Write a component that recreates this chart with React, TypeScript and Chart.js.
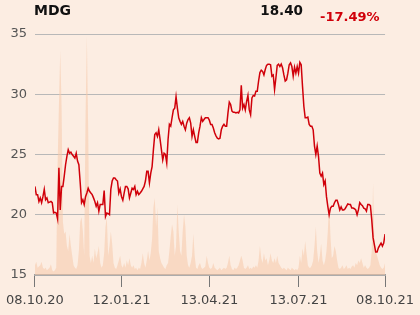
import { useEffect, useRef } from "react";
import { Chart, registerables } from "chart.js";
Chart.register(...registerables);

const titleText = "MDG";
const lastPriceText = "18.40";
const changeText = "-17.49%";

const xTickLabels = ["08.10.20", "12.01.21", "13.04.21", "13.07.21", "08.10.21"];
const xTickIndex = [0, 65, 131, 198, 263];
const yTickValues = [15, 20, 25, 30, 35];

const prices = [
  22.35, 21.67, 21.67, 21.1, 21.4, 21.0, 21.5, 22.1, 21.25, 21.4,
  21.0, 21.05, 21.1, 21.0, 20.15, 20.2, 20.15, 19.65, 23.9, 20.4, 22.35, 22.35,
  23.2, 24.15, 24.85, 25.4, 25.1, 25.2, 25.0, 24.85, 24.7, 25.1,
  24.45, 24.15, 22.65, 21.0, 21.25, 20.85, 21.5, 21.8, 22.2, 21.95,
  21.8,
  21.67, 21.4, 21.1, 20.7, 21.0, 20.3, 20.85, 20.85, 20.85, 22.0,
  19.85, 20.15, 20.1, 20.0, 22.1, 22.8, 23.05, 23.05, 22.9, 22.8,
  21.8, 22.15, 21.5, 21.2, 21.8, 22.35, 22.35, 22.15, 21.4, 21.8,
  22.2, 22.1, 22.35, 21.67, 21.95, 21.67, 21.8, 21.95, 22.15, 22.35,
  22.8, 23.6, 23.6, 22.65, 23.45, 24.0, 25.4, 26.65, 26.8, 26.5,
  27.05, 26.25, 25.4, 24.55, 25.1, 25.0, 24.3, 26.25, 27.5, 27.35,
  28.05, 28.7, 28.85, 29.8, 28.85, 28.05, 27.75, 27.5, 27.75, 27.35,
  27.05, 27.6, 27.9, 28.05, 27.6, 26.5, 27.05, 26.5, 26.0, 26.0,
  26.8, 27.35, 28.05, 27.75, 27.9, 28.05, 28.05, 28.05, 27.85, 27.5,
  27.5, 27.2, 26.8, 26.55, 26.35, 26.3, 26.35, 27.05, 27.35, 27.5,
  27.35, 27.35, 28.45, 29.35, 29.15, 28.6, 28.5, 28.5, 28.45, 28.5,
  28.45, 28.7, 30.75, 28.85, 29.15, 28.7, 29.4, 29.9, 28.7, 28.3,
  29.7, 29.9, 29.85, 30.25, 30.25, 31.1, 31.8, 32.0, 31.9, 31.6,
  32.05, 32.4, 32.5, 32.5, 32.45, 31.5, 31.6, 30.4, 31.35, 32.4,
  32.5, 32.3, 32.5, 32.2, 31.6, 31.1, 31.2, 31.75, 32.45, 32.6,
  32.3, 31.5, 32.25, 31.75, 32.3, 31.75, 32.65, 32.45, 30.65, 29.0,
  28.05, 28.05, 28.1, 27.5, 27.35, 27.35, 27.05, 25.7, 25.0, 25.7,
  24.85, 23.45, 23.2, 23.45, 22.5, 22.8, 21.5, 20.7, 20.0, 20.55,
  20.7, 20.7, 21.0, 21.2, 21.2, 20.85, 20.4, 20.65, 20.4, 20.4,
  20.5, 20.7, 20.9, 20.85, 20.85, 20.55, 20.55, 20.5, 20.4, 20.0,
  20.4, 21.0, 20.85, 20.75, 20.55, 20.5, 20.3, 20.85, 20.85, 20.75,
  19.6, 18.1, 17.5, 16.9, 16.9, 17.25, 17.45, 17.65, 17.4, 17.65, 18.4,
];

const volumes = [
  4, 5.5, 3, 3.5, 4, 5.5, 3, 2.5, 3, 2, 2.5, 3, 4.5, 2, 1.5, 2, 3,
  45, 70, 93,
  70, 22, 17, 18, 12, 10, 17, 12, 8, 4, 3, 2.5, 4, 10, 22, 24, 18, 8, 65, 99,
  60, 8, 5, 8, 5, 11, 7, 9, 12, 5, 3, 4, 9, 20, 24, 8, 12, 18, 13, 5,
  3, 2.5, 4, 6, 8, 4, 3, 5, 3, 6, 4, 7, 4, 3, 4, 2.5, 3, 2, 3, 2.5,
  5, 9, 5, 3, 6, 10, 6, 9, 15, 28, 32, 20, 28, 10, 7, 5, 4, 3, 2.5, 4,
  5, 10, 16, 21, 18, 8, 12, 29, 18, 10, 8, 18, 25, 20, 8, 4, 3, 5, 8, 17,
  8, 3, 2.5, 4, 5, 3, 2.5, 3, 3.5, 8, 5, 3, 2.5, 3, 5, 3, 2.5, 2, 2.5, 3,
  2, 2.5, 3, 2.5, 3, 5, 8, 4, 2.5, 2, 3, 2.5, 3, 4, 6, 8, 6, 3, 2.5, 3,
  4, 2.5, 3, 2.5, 3.5, 3, 4, 3, 6, 12, 7, 5, 9, 6, 7, 4, 6, 9, 6, 5,
  7, 5, 8, 5, 4, 3, 2.5, 3, 2.5, 2, 3, 2.5, 2, 3, 2.5, 2, 2.5, 2, 3, 8,
  5, 11, 8, 14, 9, 4, 3, 3, 4, 6, 12, 20, 10, 5, 8, 13, 6, 4, 6, 10,
  18, 30, 16, 7, 8, 12, 10, 6, 3, 2.5, 3, 4, 2.5, 3, 4, 2.5, 3, 2.5, 3.5, 4,
  3, 5, 4, 6, 5, 7, 5, 3, 4, 3, 2.5, 3, 4, 10, 38, 12, 10, 8, 6, 4, 3, 2.5, 3, 5,
];

const BG = "rgb(252,237,226)";
const RED = "rgb(208,0,10)";
const VOL = "rgba(245,200,170,0.55)";
const FONT = "'DejaVu Sans', sans-serif";

export default function App() {
  const ref = useRef<HTMLCanvasElement>(null);
  useEffect(() => {
    document.body.style.margin = "0";
    document.body.style.background = BG;
    const bgPlugin = {
      id: "bg",
      beforeDraw(chart: any) {
        const { ctx, width, height } = chart;
        ctx.save();
        ctx.fillStyle = BG;
        ctx.fillRect(0, 0, width, height);
        ctx.restore();
      },
    };
    const textPlugin = {
      id: "texts",
      afterDraw(chart: any) {
        const { ctx } = chart;
        ctx.save();
        ctx.textBaseline = "alphabetic";
        ctx.fillStyle = "#111";
        ctx.font = `bold 14px ${FONT}`;
        ctx.textAlign = "left";
        ctx.fillText(titleText, 34, 15);
        ctx.font = `bold 13.5px ${FONT}`;
        ctx.textAlign = "right";
        ctx.fillText(lastPriceText, 303, 14.5);
        ctx.fillStyle = RED;
        ctx.font = `bold 13px ${FONT}`;
        ctx.textAlign = "left";
        ctx.fillText(changeText, 320, 21);
        ctx.restore();
      },
    };
    const chart = new Chart(ref.current!, {
      type: "line",
      data: {
        datasets: [
          {
            data: prices.map((v, i) => ({ x: i, y: v })),
            borderColor: RED,
            borderWidth: 1.5,
            pointRadius: 0,
            fill: false,
            tension: 0,
            yAxisID: "y",
          },
          {
            data: volumes.map((v, i) => ({ x: i, y: v })),
            borderWidth: 0,
            borderColor: "rgba(0,0,0,0)",
            backgroundColor: VOL,
            fill: "origin",
            pointRadius: 0,
            tension: 0,
            yAxisID: "y1",
          },
        ],
      },
      options: {
        responsive: false,
        animation: false,
        layout: { padding: { left: 0, right: 34, top: 34, bottom: 0 } },
        plugins: { legend: { display: false }, tooltip: { enabled: false } },
        scales: {
          x: {
            type: "linear",
            min: 0,
            max: prices.length - 1,
            afterBuildTicks: (s: any) => {
              s.ticks = xTickIndex.map((v) => ({ value: v }));
            },
            afterFit: (s: any) => {
              s.height = 40;
            },
            ticks: {
              autoSkip: false,
              maxRotation: 0,
              padding: 6,
              color: "#444",
              font: { family: FONT, size: 13 },
              callback: (v: any) => {
                const k = xTickIndex.indexOf(Number(v));
                return k >= 0 ? xTickLabels[k] : "";
              },
            },
            grid: { drawOnChartArea: false, drawTicks: true, tickLength: 12, color: "#777", lineWidth: 1 },
            border: { display: true, color: "#a0a0a0", width: 1.5 },
          },
          y: {
            min: 15,
            max: 35,
            afterBuildTicks: (s: any) => {
              s.ticks = yTickValues.map((v) => ({ value: v }));
            },
            afterFit: (s: any) => {
              s.width = 34;
            },
            ticks: { padding: 8, color: "#555", font: { family: FONT, size: 13 } },
            grid: { color: "#b8b8b8", drawTicks: false, lineWidth: 1 },
            border: { display: false },
          },
          y1: { display: false, min: 0, max: 100 },
        },
      },
      plugins: [bgPlugin, textPlugin],
    } as any);
    return () => chart.destroy();
  }, []);
  return <canvas ref={ref} width={420} height={315} style={{ display: "block" }} />;
}
